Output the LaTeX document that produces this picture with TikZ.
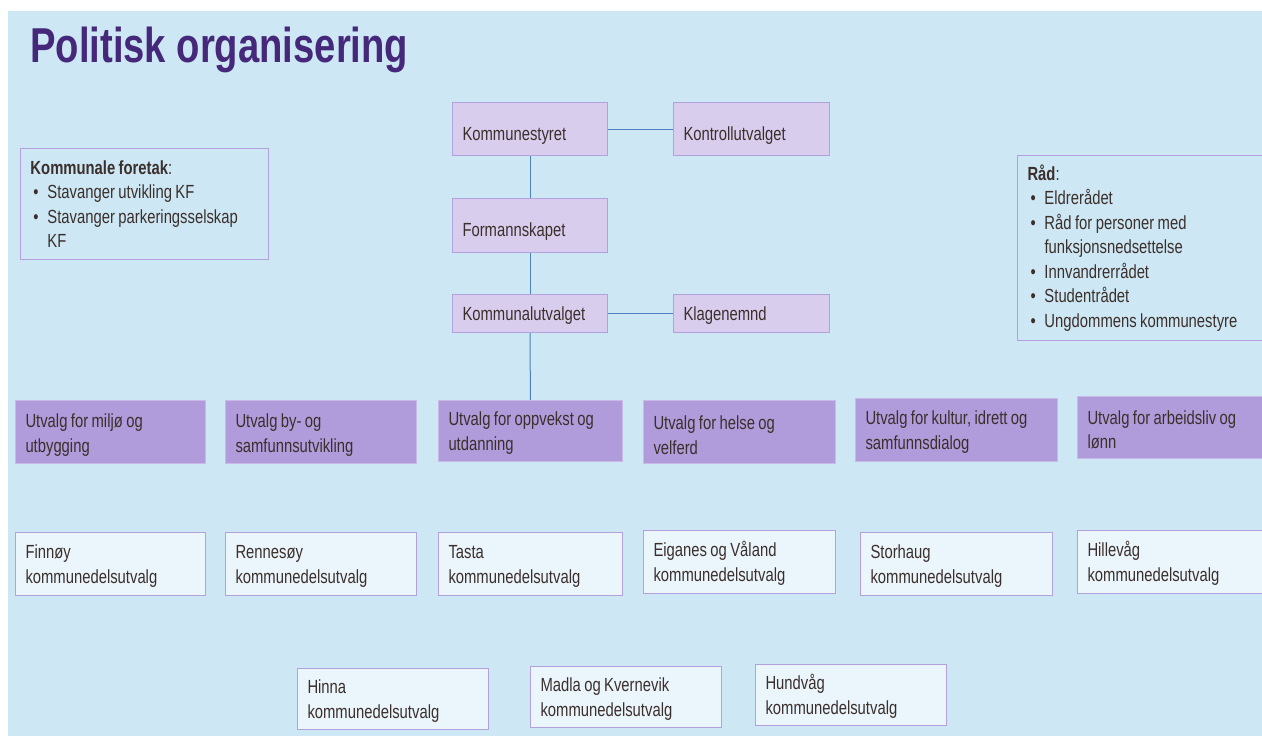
\documentclass[tikz,border=0pt]{standalone}
\usepackage{fontspec}
\setmainfont{Liberation Sans}[FakeStretch=0.78]
\definecolor{bgc}{HTML}{CDE7F4}
\definecolor{lpur}{HTML}{D9CDEE}
\definecolor{bord}{HTML}{B2A1DD}
\definecolor{mpur}{HTML}{B09BDB}
\definecolor{wbox}{HTML}{EAF5FC}
\definecolor{linec}{HTML}{4F81BD}
\definecolor{txt}{HTML}{3B2F2B}
\definecolor{titlec}{HTML}{46287A}
\newcommand{\bul}{\hspace*{3pt}\makebox[14pt][l]{•}}
\newcommand{\tstrut}[1]{\rule{0pt}{#1pt}}
\begin{document}
\begin{tikzpicture}[x=1pt,y=-1pt,
  base/.style={draw=bord,line width=1pt,anchor=north west,inner xsep=10pt,inner ysep=0pt,
    align=left,text=txt,font=\fontsize{19}{24.5}\selectfont,
    execute at begin node={\spaceskip=0.18em plus 0.05em\relax}},
  topbox/.style={base,fill=lpur},
  utvbox/.style={base,fill=mpur,draw=mpur!70!white},
  whbox/.style={base,fill=wbox},
  infobox/.style={base,fill=none},
  conn/.style={draw=linec,line width=1pt}]
\useasboundingbox (0,0) rectangle (1262,736);
\fill[white] (0,0) rectangle (1262,736);
\fill[bgc] (8,11) rectangle (1262,736);
\node[anchor=base west,inner sep=0pt,text=titlec,font=\fontsize{49}{60}\selectfont\bfseries] (title) at (30,62) {Politisk organisering};
% top hierarchy
\node[topbox,text width=135pt,minimum height=53pt] (ks) at (452,102) {\tstrut{26}Kommunestyret};
\node[topbox,text width=136pt,minimum height=53pt] (ku) at (673,102) {\tstrut{26}Kontrollutvalget};
\node[topbox,text width=135pt,minimum height=54pt] (fs) at (452,198) {\tstrut{26}Formannskapet};
\node[topbox,text width=135pt,minimum height=38pt] (kom) at (452,294) {\tstrut{18}Kommunalutvalget};
\node[topbox,text width=136pt,minimum height=38pt] (kn) at (673,294) {\tstrut{18}Klagenemnd};
% info boxes
\node[infobox,text width=228pt,minimum height=111pt] (kf) at (20,148) {\textbf{Kommunale foretak}:\\
\bul Stavanger utvikling KF\\
\bul Stavanger parkeringsselskap\\
\hspace*{17pt}KF};
\node[infobox,text width=250pt,minimum height=185pt] (rad) at (1017,155) {\textbf{Råd}:\\
\bul Eldrerådet\\
\bul Råd for personer med\\
\hspace*{17pt}funksjonsnedsettelse\\
\bul Innvandrerrådet\\
\bul Studentrådet\\
\bul Ungdommens kommunestyre};
% utvalg row
\node[utvbox,text width=170pt,minimum height=63pt] (u1) at (15,400) {\tstrut{20}Utvalg for miljø og\\utbygging};
\node[utvbox,text width=171pt,minimum height=63pt] (u2) at (225,400) {\tstrut{20}Utvalg by- og\\samfunnsutvikling};
\node[utvbox,text width=164pt,minimum height=61pt] (u3) at (438,400) {\tstrut{18}Utvalg for oppvekst og\\utdanning};
\node[utvbox,text width=172pt,minimum height=63pt] (u4) at (643,400) {\tstrut{20}Utvalg for helse og\\velferd};
\node[utvbox,text width=182pt,minimum height=63pt] (u5) at (855,398) {\tstrut{18}Utvalg for kultur, idrett og\\samfunnsdialog};
\node[utvbox,text width=180pt,minimum height=62pt] (u6) at (1077,396) {\tstrut{18}Utvalg for arbeidsliv og\\lønn};
% kommunedelsutvalg row
\node[whbox,text width=170pt,minimum height=63pt] (k1) at (15,532) {\tstrut{18}Finnøy\\kommunedelsutvalg};
\node[whbox,text width=171pt,minimum height=63pt] (k2) at (225,532) {\tstrut{18}Rennesøy\\kommunedelsutvalg};
\node[whbox,text width=164pt,minimum height=63pt] (k3) at (438,532) {\tstrut{18}Tasta\\kommunedelsutvalg};
\node[whbox,text width=172pt,minimum height=63pt] (k4) at (643,530) {\tstrut{18}Eiganes og Våland\\kommunedelsutvalg};
\node[whbox,text width=172pt,minimum height=63pt] (k5) at (860,532) {\tstrut{18}Storhaug\\kommunedelsutvalg};
\node[whbox,text width=180pt,minimum height=63pt] (k6) at (1077,530) {\tstrut{18}Hillevåg\\kommunedelsutvalg};
\node[whbox,text width=171pt,minimum height=61pt] (k7) at (297,668) {\tstrut{18}Hinna\\kommunedelsutvalg};
\node[whbox,text width=171pt,minimum height=61pt] (k8) at (530,666) {\tstrut{18}Madla og Kvernevik\\kommunedelsutvalg};
\node[whbox,text width=171pt,minimum height=61pt] (k9) at (755,664) {\tstrut{18}Hundvåg\\kommunedelsutvalg};
% connectors
\draw[conn] (ks) -- (ku);
\draw[conn] (ks) -- (fs);
\draw[conn] (fs) -- (kom);
\draw[conn] (kom) -- (kn);
\draw[conn] (kom) -- (u3);
\end{tikzpicture}
\end{document}
